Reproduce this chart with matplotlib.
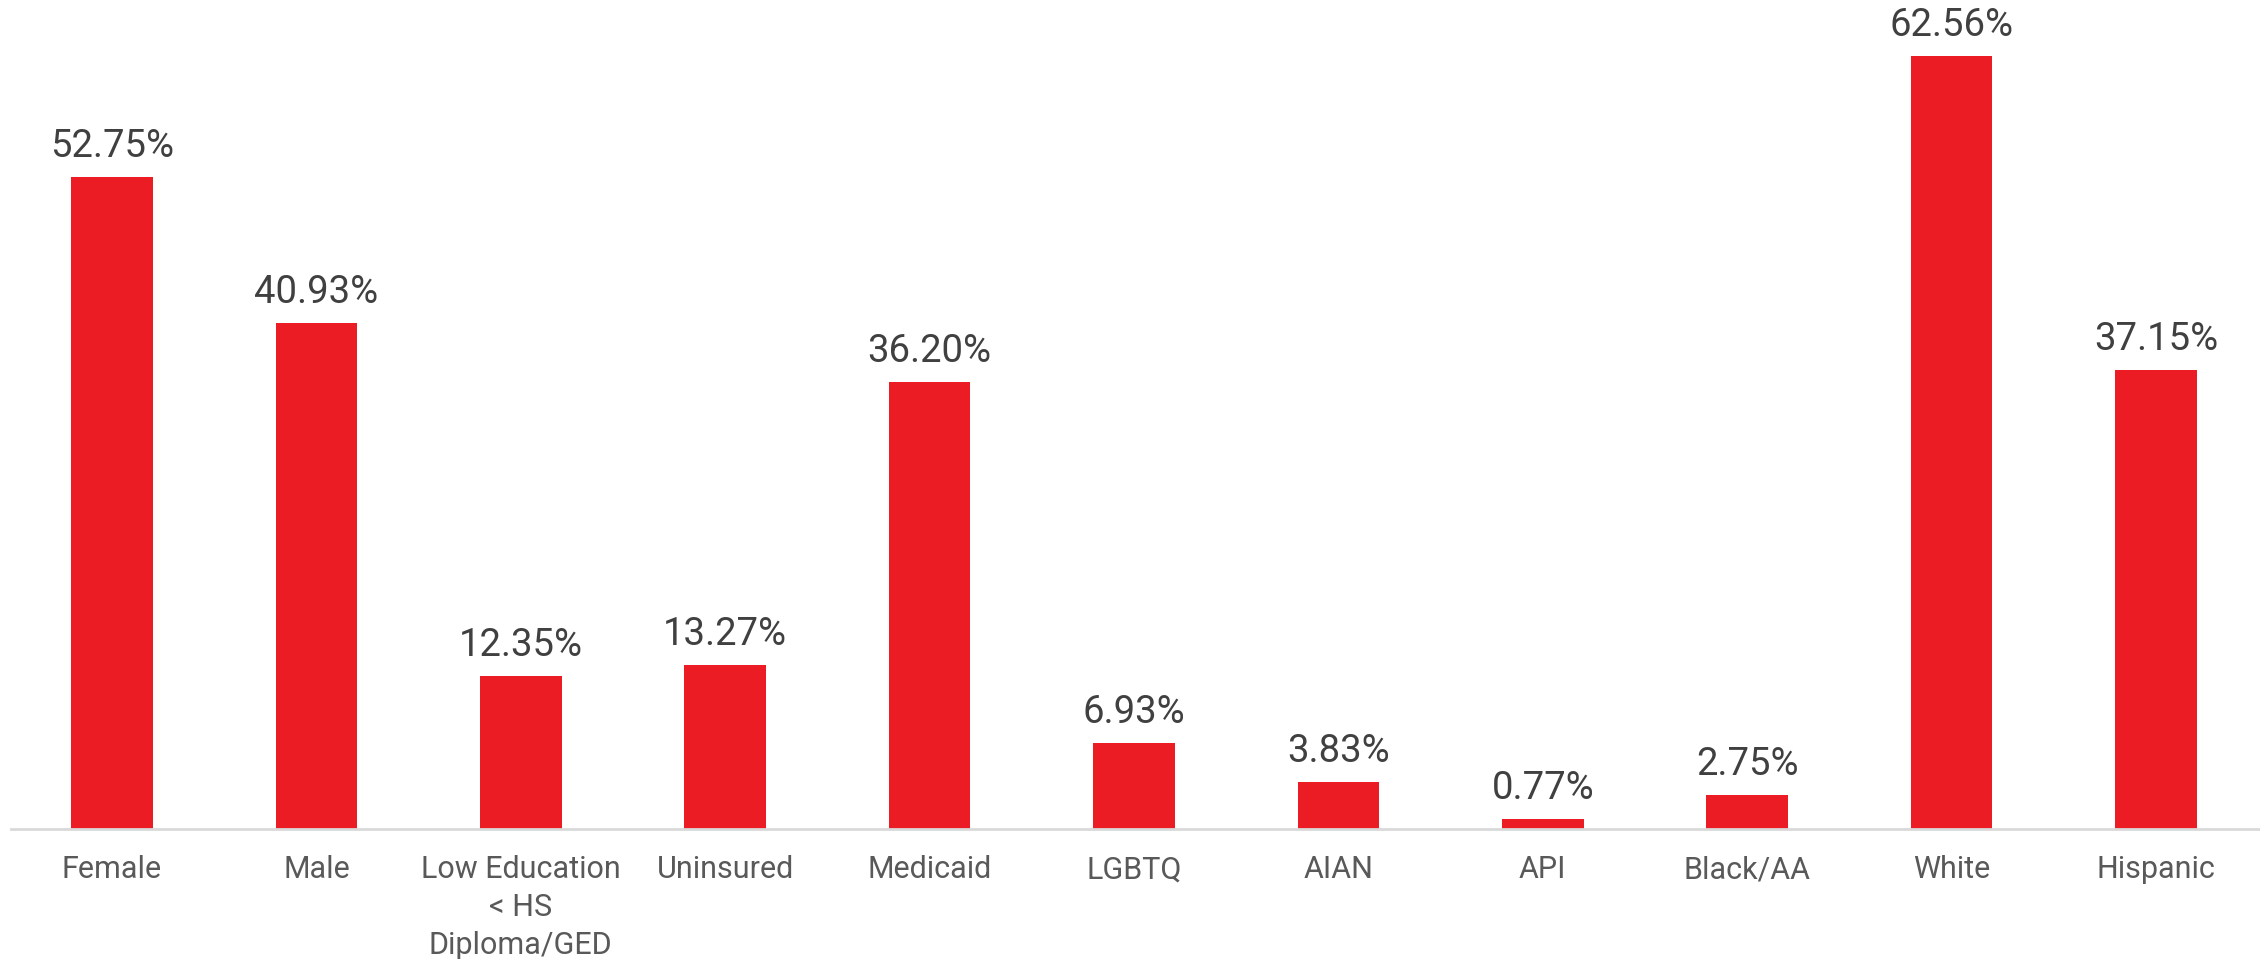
import matplotlib.pyplot as plt

categorias = ["Female", "Male", "Low Education\n< HS\nDiploma/GED", "Uninsured", "Medicaid",
              "LGBTQ", "AIAN", "API", "Black/AA", "White", "Hispanic"]
valores = [52.75, 40.93, 12.35, 13.27, 36.20, 6.93, 3.83, 0.77, 2.75, 62.56, 37.15]

plt.rcParams['font.family'] = ['Roboto', 'DejaVu Sans']

fig = plt.figure(figsize=(22.6, 9.59), dpi=100)
ax = fig.add_axes([0.0, 130 / 959, 1.0, 829 / 959])

x = range(len(categorias))
ax.bar(x, valores, width=0.40, color="#EC1C24", zorder=2)

# etiquetas de valor encima de cada barra
for i, v in enumerate(valores):
    ax.annotate(f"{v:.2f}%", (i, v), xytext=(0, 14.4), textcoords="offset points",
                ha="center", va="baseline", fontsize=27.5, color="#404040")

ax.set_xlim(-0.548, 10.509)
ax.set_ylim(0, 67.1)
ax.set_xticks(list(x))
ax.set_xticklabels(categorias, fontsize=22, color="#595959", linespacing=1.38)
ax.tick_params(axis="x", length=0, pad=19)
ax.set_yticks([])
for s in ["top", "right", "left"]:
    ax.spines[s].set_visible(False)
ax.spines["bottom"].set_color("#D9D9D9")
ax.spines["bottom"].set_linewidth(2)
ax.spines["bottom"].set_bounds(-0.494, 10.509)

fig.savefig("out.png", dpi=100)
